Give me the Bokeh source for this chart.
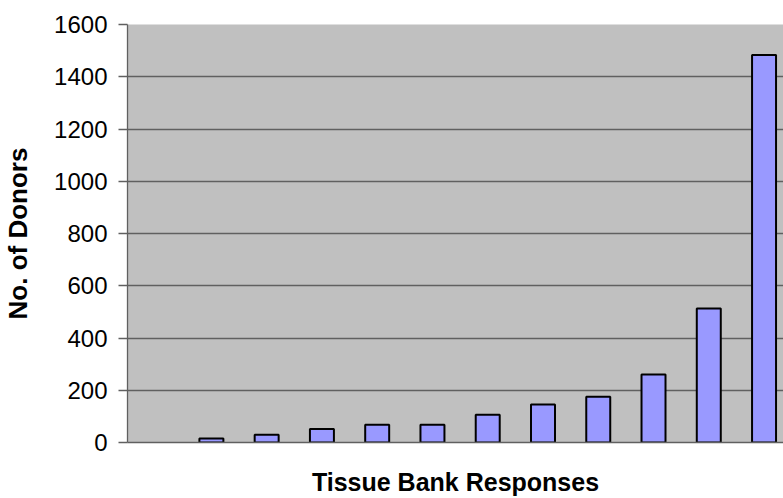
from bokeh.plotting import figure
from bokeh.models import Range1d, FixedTicker, ColumnDataSource
from bokeh.embed import file_html
from bokeh.resources import INLINE

# Data
categories = list(range(1, 13))
donors = [0, 15, 30, 52, 68, 68, 106, 145, 175, 260, 513, 1483]
y_ticks = [0, 200, 400, 600, 800, 1000, 1200, 1400, 1600]

FONT = "Liberation Sans"
GRAY = "#606060"

p = figure(width=783, height=498, output_backend="svg", toolbar_location=None,
           min_border_left=126, min_border_right=0, min_border_top=24, min_border_bottom=56,
           x_range=Range1d(0.482, 12.352), y_range=Range1d(0, 1600))
p.background_fill_color = "#C0C0C0"
p.border_fill_color = "white"
p.outline_line_color = None

src = ColumnDataSource(dict(
    x=categories, top=donors,
    lc=["black" if v > 0 else None for v in donors],
    fc=["#9999FF" if v > 0 else None for v in donors],
))
p.vbar(x="x", top="top", bottom=0, width=0.434, source=src,
       fill_color="fc", line_color="lc", line_width=2)

p.xgrid.visible = False
p.ygrid.ticker = FixedTicker(ticks=y_ticks)
p.ygrid.grid_line_color = GRAY
p.ygrid.grid_line_width = 1.3

p.yaxis.ticker = FixedTicker(ticks=y_ticks)
p.yaxis.axis_line_color = GRAY
p.yaxis.axis_line_width = 1.3
p.yaxis.major_tick_line_color = GRAY
p.yaxis.major_tick_line_width = 1.3
p.yaxis.major_tick_out = 9
p.yaxis.major_tick_in = 0
p.yaxis.minor_tick_line_color = None
p.yaxis.major_label_text_font = FONT
p.yaxis.major_label_text_font_size = "24px"
p.yaxis.major_label_text_color = "black"
p.yaxis.major_label_standoff = 11
p.yaxis.axis_label = "No. of Donors"
p.yaxis.axis_label_text_font = FONT
p.yaxis.axis_label_text_font_size = "26px"
p.yaxis.axis_label_text_font_style = "bold"
p.yaxis.axis_label_text_color = "black"
p.yaxis.axis_label_standoff = 18

p.xaxis.ticker = FixedTicker(ticks=[])
p.xaxis.axis_line_color = GRAY
p.xaxis.axis_line_width = 1.3
p.xaxis.major_tick_line_color = None
p.xaxis.minor_tick_line_color = None
p.xaxis.major_label_text_font_size = "0px"
p.xaxis.major_label_standoff = 0
p.xaxis.major_tick_out = 0
p.xaxis.axis_label = "Tissue Bank Responses"
p.xaxis.axis_label_text_font = FONT
p.xaxis.axis_label_text_font_size = "25px"
p.xaxis.axis_label_text_font_style = "bold"
p.xaxis.axis_label_text_color = "black"
p.xaxis.axis_label_standoff = 25

open("out.html", "w").write(file_html(p, INLINE))
